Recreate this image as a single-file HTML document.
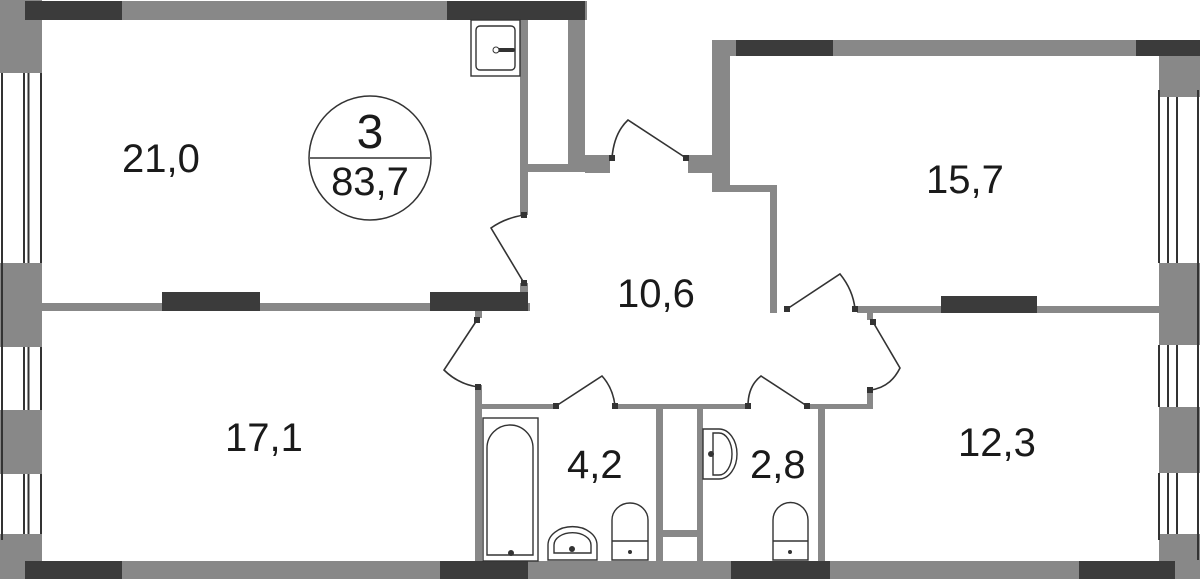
<!DOCTYPE html>
<html><head><meta charset="utf-8"><style>
html,body{margin:0;padding:0;background:#fff;width:1200px;height:579px;overflow:hidden}
svg{display:block}
text{font-family:"Liberation Sans",Arial,sans-serif;fill:#1a1a1a}
</style></head><body>
<svg width="1200" height="579" viewBox="0 0 1200 579" xmlns="http://www.w3.org/2000/svg">
<g fill="#888">
<!-- left wall -->
<rect x="0" y="0" width="42" height="73"/>
<rect x="0" y="263" width="42" height="84"/>
<rect x="0" y="410" width="42" height="64"/>
<rect x="0" y="534" width="42" height="45"/>
<!-- top wall -->
<rect x="0" y="1" width="587" height="19"/>
<!-- 21.0 right wall -->
<rect x="520" y="19" width="8" height="196"/>
<rect x="520" y="283" width="8" height="10"/>
<rect x="568" y="19" width="17" height="153"/>
<rect x="528" y="164" width="40" height="8"/>
<rect x="585" y="155" width="25" height="18"/>
<rect x="688" y="155" width="24" height="18"/>
<rect x="712" y="40" width="18" height="152"/>
<rect x="700" y="155" width="14" height="18"/>
<rect x="722" y="185" width="55" height="7"/>
<rect x="770" y="185" width="7" height="128"/>
<!-- 15.7 top -->
<rect x="712" y="40" width="488" height="16"/>
<!-- right wall -->
<rect x="1159" y="56" width="41" height="41"/>
<rect x="1159" y="263" width="41" height="82"/>
<rect x="1159" y="407" width="41" height="66"/>
<rect x="1159" y="534" width="41" height="45"/>
<!-- partition 21/17 -->
<rect x="42" y="303" width="488" height="8"/>
<!-- partition 15.7/12.3 -->
<rect x="857" y="306" width="302" height="7"/>
<rect x="867" y="313" width="6" height="7"/>
<rect x="867" y="393" width="6" height="16"/>
<!-- corridor small walls -->
<rect x="475" y="310" width="7" height="8"/>
<rect x="475" y="385" width="7" height="176"/>
<rect x="482" y="404" width="73" height="5"/>
<rect x="615" y="404" width="133" height="5"/>
<rect x="807" y="404" width="66" height="5"/>
<rect x="656" y="409" width="7" height="152"/>
<rect x="697" y="409" width="6" height="152"/>
<rect x="663" y="530" width="34" height="7"/>
<rect x="818" y="409" width="7" height="152"/>
<!-- bottom wall -->
<rect x="0" y="561" width="1200" height="18"/>
</g>
<g fill="#3b3b3b">
<rect x="25" y="1" width="97" height="19"/>
<rect x="447" y="1" width="138" height="19"/>
<rect x="736" y="40" width="97" height="16"/>
<rect x="1136" y="40" width="64" height="16"/>
<rect x="162" y="292" width="98" height="19"/>
<rect x="430" y="292" width="98" height="19"/>
<rect x="941" y="296" width="96" height="17"/>
<rect x="25" y="561" width="97" height="18"/>
<rect x="440" y="561" width="88" height="18"/>
<rect x="731" y="561" width="99" height="18"/>
<rect x="1079" y="561" width="96" height="18"/>
</g>
<!-- windows -->
<g stroke="#333" stroke-width="2" fill="none">
<line x1="2" y1="73" x2="2" y2="540"/>
<line x1="24" y1="73" x2="24" y2="263"/><line x1="28.5" y1="73" x2="28.5" y2="263"/><line x1="41" y1="73" x2="41" y2="263"/>
<line x1="24" y1="347" x2="24" y2="410"/><line x1="28.5" y1="347" x2="28.5" y2="410"/><line x1="41" y1="347" x2="41" y2="410"/>
<line x1="24" y1="474" x2="24" y2="534"/><line x1="28.5" y1="474" x2="28.5" y2="534"/><line x1="41" y1="474" x2="41" y2="534"/>
<line x1="1198" y1="90" x2="1198" y2="560"/>
<line x1="1159" y1="90" x2="1159" y2="263"/><line x1="1168" y1="97" x2="1168" y2="263"/><line x1="1177" y1="97" x2="1177" y2="263"/>
<line x1="1159" y1="345" x2="1159" y2="407"/><line x1="1168" y1="345" x2="1168" y2="407"/><line x1="1177" y1="345" x2="1177" y2="407"/>
<line x1="1159" y1="473" x2="1159" y2="540"/><line x1="1168" y1="473" x2="1168" y2="534"/><line x1="1177" y1="473" x2="1177" y2="534"/>
</g>
<!-- doors -->
<g stroke="#333" stroke-width="1.6" fill="none">
<path d="M524 215 Q505 218 491 228 L524 283"/>
<path d="M612 158 Q614 133 628 120 L686 158"/>
<path d="M787 309 L840 274 Q853 290 855 309"/>
<path d="M477 320 L444 370 Q458 384 478 387"/>
<path d="M556 406 L602 376 Q613 388 615 406"/>
<path d="M748 406 Q748 386 761 376 L807 406"/>
<path d="M870 390 Q890 388 900 368 L873 322"/>
</g>
<g fill="#333">
<rect x="521" y="212" width="6" height="6"/><rect x="521" y="280" width="6" height="6"/>
<rect x="609" y="155" width="6" height="6"/><rect x="683" y="155" width="6" height="6"/>
<rect x="784" y="306" width="6" height="6"/><rect x="852" y="306" width="6" height="6"/>
<rect x="474" y="317" width="6" height="6"/><rect x="475" y="384" width="6" height="6"/>
<rect x="553" y="403" width="6" height="6"/><rect x="612" y="403" width="6" height="6"/>
<rect x="745" y="403" width="6" height="6"/><rect x="804" y="403" width="6" height="6"/>
<rect x="867" y="387" width="6" height="6"/><rect x="870" y="319" width="6" height="6"/>
</g>
<!-- fixtures -->
<g stroke="#333" stroke-width="1.4" fill="#fff">
<rect x="471" y="20" width="49" height="56"/>
<rect x="476" y="26" width="39" height="44" rx="4"/>
<rect x="483" y="418" width="55" height="143"/>
<path d="M487 555 V448 A23 23 0 0 1 533 448 V555 Z"/>
<path d="M548 560 V545 A24 18 0 0 1 597 545 V560 Z"/>
<path d="M554 553 V545 A18 12 0 0 1 591 545 V553 Z"/>
<path d="M612 560 V520 A18 17 0 0 1 648 520 V560 Z"/>
<line x1="612" y1="541" x2="648" y2="541"/>
<path d="M703 429 H719 A18 25 0 0 1 719 479 H703 Z"/>
<path d="M713 433 H719 A13 21 0 0 1 719 475 H713 Z"/>
<path d="M773 560 V520 A17 17 0 0 1 808 520 V560 Z"/>
<line x1="773" y1="541" x2="808" y2="541"/>
</g>
<g fill="#333">
<rect x="496" y="48" width="19" height="4" rx="2"/><circle cx="496" cy="50" r="3" fill="#fff" stroke="#333"/>
<circle cx="511" cy="553" r="3"/><circle cx="572" cy="549" r="3"/><circle cx="630" cy="552" r="2"/>
<circle cx="790" cy="552" r="2"/><circle cx="711" cy="454" r="3"/>
</g>
<!-- circle -->
<ellipse cx="370" cy="158" rx="61" ry="62" fill="none" stroke="#333" stroke-width="1.5"/>
<line x1="310" y1="158" x2="430" y2="158" stroke="#333" stroke-width="1.5"/>
<text x="370" y="148" font-size="48" text-anchor="middle">3</text>
<text x="370" y="195" font-size="40" text-anchor="middle">83,7</text>
<!-- labels -->
<g font-size="40">
<text x="122" y="172">21,0</text>
<text x="926" y="193">15,7</text>
<text x="617" y="307">10,6</text>
<text x="225" y="451">17,1</text>
<text x="567" y="478">4,2</text>
<text x="750" y="478">2,8</text>
<text x="958" y="456">12,3</text>
</g>
</svg>
</body></html>
